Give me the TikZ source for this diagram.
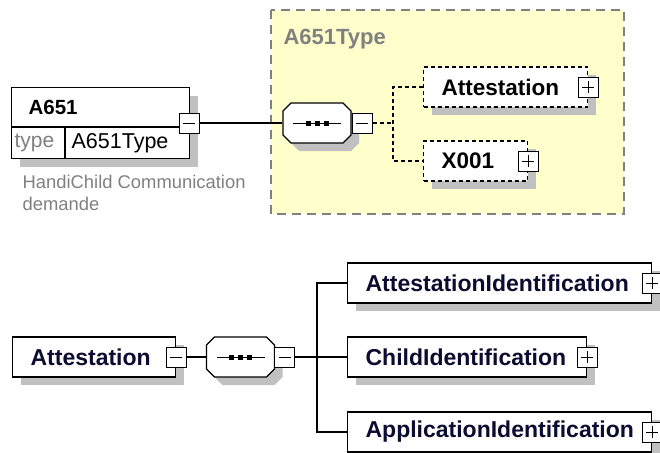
\documentclass[tikz,border=0pt]{standalone}
\usepackage{fontspec}
\setmainfont{Liberation Sans}
\usetikzlibrary{shadows}

\definecolor{typefill}{RGB}{255,255,204}
\definecolor{shadowgray}{RGB}{192,192,192}
\definecolor{labelgray}{RGB}{128,128,128}
\definecolor{clearink}{RGB}{12,12,48}

\begin{document}
\begin{tikzpicture}[x=1pt,y=-1pt,line width=1.2pt,inner sep=0,
    boxshadow/.style={drop shadow={shadow xshift=8pt,shadow yshift=-8pt,fill=shadowgray,opacity=1}},
    elem/.style={draw,fill=white,anchor=west,minimum height=40,inner xsep=18,inner ysep=0,
      align=left,font=\fontsize{23}{27}\selectfont\bfseries,boxshadow},
    optelem/.style={elem,font=\fontsize{22.5}{26}\selectfont\bfseries,dash pattern=on 4pt off 3pt},
    optlink/.style={dash pattern=on 4pt off 3pt},
    seqbox/.style={minimum width=68,minimum height=40},
    expminus/.style={draw,fill=white,minimum size=20,line width=1pt,
      path picture={\draw[line width=1pt] ([xshift=4pt]path picture bounding box.west) -- ([xshift=-4pt]path picture bounding box.east);}},
    expplus/.style={draw,fill=white,minimum size=20,line width=1pt,
      path picture={\draw[line width=1pt] ([xshift=4pt]path picture bounding box.west) -- ([xshift=-4pt]path picture bounding box.east);
        \draw[line width=1pt] ([yshift=4pt]path picture bounding box.south) -- ([yshift=-4pt]path picture bounding box.north);}}]
  \useasboundingbox (0,0) rectangle (660,452);

  \begin{scope}
    \draw[fill=typefill,draw=labelgray,dash pattern=on 9pt off 6pt] (271,10) rectangle (624,214);
    \node[anchor=west,text=labelgray,font=\fontsize{22}{26}\selectfont\bfseries] (typename) at (283,39) {A651Type};

    \node[draw,fill=white,anchor=north west,minimum width=178,minimum height=71,boxshadow] (a651) at (11,87) {};
    \draw (11,127) -- (189,127);
    \draw (65,127) -- (65,158);
    \node[anchor=west,font=\fontsize{20.5}{24}\selectfont\bfseries] (a651name) at (28,107) {A651};
    \node[anchor=west,text=labelgray,font=\fontsize{21}{25}\selectfont] (typekey) at (14,143) {type};
    \node[anchor=west,font=\fontsize{21.5}{25}\selectfont] (typeval) at (71,143) {A651Type};
    \node[anchor=north west,align=left,text=labelgray,font=\fontsize{18.4}{21.5}\selectfont] (a651doc) at (22,175) {HandiChild Communication\\demande};

    \node[seqbox] (seq1) at (317,123) {};
    \node[optelem,text width=128] (attest) at (423,87) {Attestation};
    \node[optelem,text width=68] (x001) at (423,161) {X001};
  \end{scope}

  \begin{scope}[every node/.append style={text=clearink}]
    \node[elem,text width=127] (attest2) at (12,357) {Attestation};
    \node[seqbox] (seq2) at (240.5,357) {};
    \node[elem,text width=268] (attid) at (347,283) {AttestationIdentification};
    \node[elem,text width=203] (childid) at (347,357) {ChildIdentification};
    \node[elem,text width=268] (appid) at (347,432) {ApplicationIdentification};
  \end{scope}

  \foreach \s in {seq1,seq2} {
    \begin{scope}[shift={(\s.center)}]
      \fill[shadowgray,shift={(8,8)}] (-26,-20) -- (26,-20) -- (34,-12) -- (34,12) -- (26,20) -- (-26,20) -- (-34,12) -- (-34,-12) -- cycle;
      \draw[fill=white] (-26,-20) -- (26,-20) -- (34,-12) -- (34,12) -- (26,20) -- (-26,20) -- (-34,12) -- (-34,-12) -- cycle;
      \draw[line width=1pt] (-24,0) -- (24,0);
      \foreach \dx in {-9,0,9}
        \fill (\dx-2.5,-2.5) rectangle (\dx+2.5,2.5);
    \end{scope}
  }

  \node[expminus] (a651exp) at (189,123) {};
  \node[expminus] (seq1exp) at (362,123) {};
  \coordinate (fork1) at (393,123);
  \node[expplus] (attestexp) at (attest.east) {};
  \node[expplus] (x001exp) at (x001.east) {};

  \node[expminus] (attest2exp) at (attest2.east) {};
  \node[expminus] (seq2exp) at (284.5,357) {};
  \coordinate (fork2) at (317,357);
  \node[expplus] (attidexp) at (attid.east) {};
  \node[expplus] (childidexp) at (childid.east) {};
  \node[expplus] (appidexp) at (appid.east) {};

  \draw (a651exp) -- (seq1);
  \draw[optlink] (seq1exp) -- (fork1);
  \draw[optlink] (attest.west) -| (fork1) |- (x001.west);

  \draw (attest2exp) -- (seq2);
  \draw (seq2exp) -- (fork2);
  \draw (fork2) -- (childid.west);
  \draw (attid.west) -| (fork2) |- (appid.west);
\end{tikzpicture}
\end{document}
